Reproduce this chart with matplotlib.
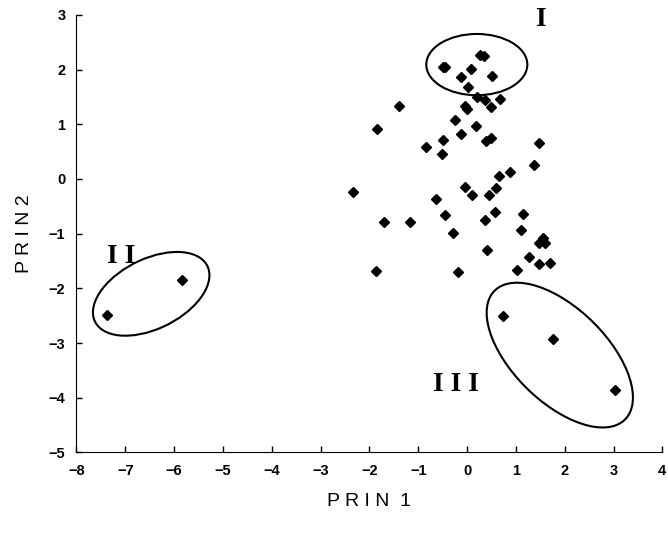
import matplotlib
matplotlib.use('Agg')
import matplotlib.pyplot as plt
from matplotlib.patches import Ellipse
import numpy as np

# principal component scores
prin1 = [-0.50, -0.45, 0.27, 0.35, 0.08, -0.12, 0.52, 0.02, 0.20, 0.36,
         0.67, 0.49, -0.04, 0.00, -1.40, -0.24, 0.19, -1.84, -0.12, -0.50,
         0.38, 0.49, -0.85, -0.52, 1.48, 1.37, 0.89, 0.66, -0.05, 0.60,
         -2.33, 0.10, 0.45, -0.64, -0.46, 0.57, 0.36, 1.15, -1.70, -1.17,
         -0.28, 1.11, 1.55, 1.48, 1.59, 0.40, 1.26, 1.48, 1.69, -1.87,
         -0.18, 1.02,
         0.74, 1.76, 3.04,
         -7.38, -5.83]
prin2 = [2.05, 2.05, 2.27, 2.25, 2.01, 1.87, 1.89, 1.68, 1.50, 1.45,
         1.46, 1.31, 1.34, 1.28, 1.34, 1.08, 0.97, 0.91, 0.82, 0.71,
         0.70, 0.75, 0.58, 0.45, 0.65, 0.26, 0.12, 0.06, -0.14, -0.16,
         -0.24, -0.30, -0.30, -0.37, -0.66, -0.61, -0.75, -0.64, -0.79, -0.79,
         -0.99, -0.94, -1.08, -1.18, -1.17, -1.29, -1.42, -1.56, -1.53, -1.68,
         -1.70, -1.66,
         -2.50, -2.93, -3.86,
         -2.48, -1.85]

# groups: label, label position, ellipse centre, width, height, angle
group_names = ['I', 'I I', 'I I I']
label_x = [1.50, -7.08, -0.23]
label_y = [2.92, -1.42, -3.75]
ell_cx = [0.20, -6.47, 1.90]
ell_cy = [2.09, -2.10, -3.22]
ell_w = [2.07, 2.52, 3.57]
ell_h = [1.12, 1.30, 1.80]
ell_ang = [0, 22, -39]

fig = plt.figure(figsize=(6.68, 5.37), dpi=100)
ax = fig.add_axes([0.1145, 0.1574, 0.877, 0.815])

ax.plot(prin1, prin2, 'kD', markersize=5, linestyle='none')

for i in range(len(group_names)):
    e = Ellipse((ell_cx[i], ell_cy[i]), ell_w[i], ell_h[i], angle=ell_ang[i],
                fill=False, edgecolor='black', linewidth=1.5)
    ax.add_patch(e)
    ax.text(label_x[i], label_y[i], group_names[i], family='Liberation Serif',
            fontsize=20, fontweight='bold', ha='center', va='center')

ax.set_xlim(-8, 4)
ax.set_ylim(-5, 3)
ax.set_xticks(np.arange(-8, 5, 1))
ax.set_yticks(np.arange(-5, 4, 1))
ax.spines['top'].set_visible(False)
ax.spines['right'].set_visible(False)
ax.tick_params(direction='in', length=4, width=1, pad=8)
for lab in ax.get_xticklabels() + ax.get_yticklabels():
    lab.set_family('Liberation Sans')
    lab.set_fontweight('bold')
    lab.set_fontsize(10.5)

ax.set_xlabel('P R I N  1', family='Liberation Sans', fontsize=14, labelpad=11)
ax.set_ylabel('P R I N 2', family='Liberation Sans', fontsize=14, labelpad=11)

fig.savefig('out.png', dpi=100)
